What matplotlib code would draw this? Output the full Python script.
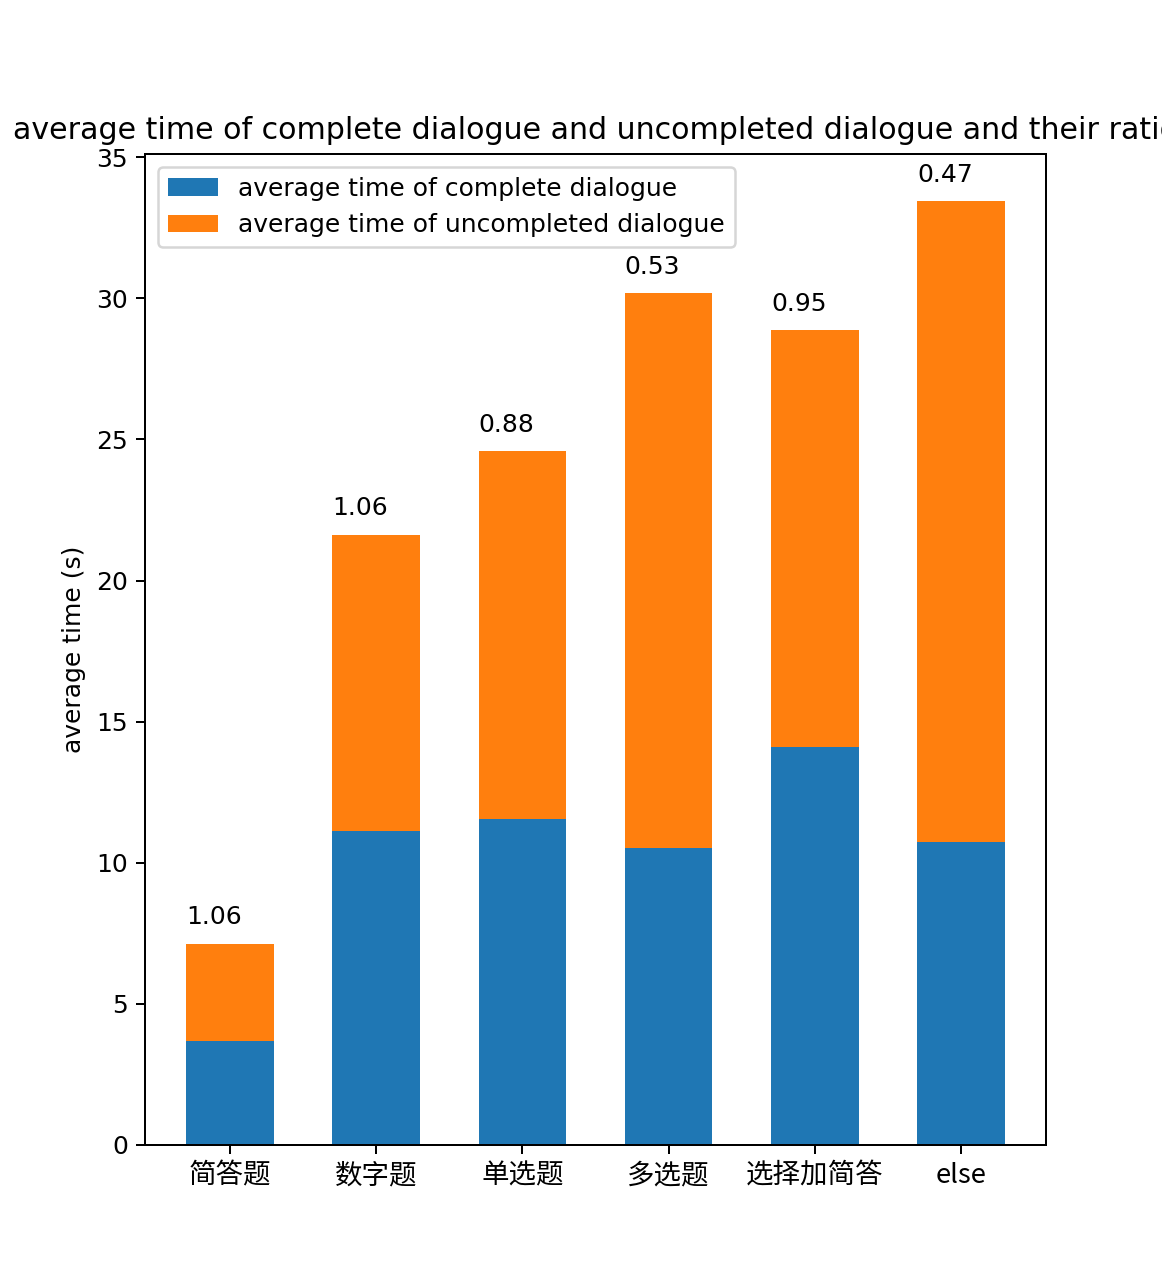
import matplotlib
matplotlib.use("Agg")
import matplotlib.pyplot as plt
import numpy as np

categories = ["简答题", "数字题", "单选题", "多选题", "选择加简答", "else"]
complete_time = [3.68, 11.12, 11.55, 10.52, 14.10, 10.73]
uncompleted_time = [3.44, 10.49, 13.03, 19.66, 14.77, 22.71]
ratio_labels = ["1.06", "1.06", "0.88", "0.53", "0.95", "0.47"]

fig = plt.figure(figsize=(1162/180, 1286/180), dpi=180)
ax = fig.add_subplot(111)
x = np.arange(len(categories))
width = 0.6
ax.bar(x, complete_time, width, color="#1f77b4", label="average time of complete dialogue")
ax.bar(x, uncompleted_time, width, bottom=complete_time, color="#ff7f0e",
       label="average time of uncompleted dialogue")
for i, lab in enumerate(ratio_labels):
    tot = complete_time[i] + uncompleted_time[i]
    ax.text(x[i] - width / 2, tot + 0.7, lab, ha="left", va="baseline", fontsize=10)

ax.set_xticks(x)
ax.set_xticklabels(categories, fontfamily=["Noto Sans CJK SC", "DejaVu Sans"], fontsize=11)
ax.set_ylabel("average time (s)")
ax.set_title("average time of complete dialogue and uncompleted dialogue and their ratio")
ax.legend(loc="upper left")
fig.savefig("out.png", dpi=180)
